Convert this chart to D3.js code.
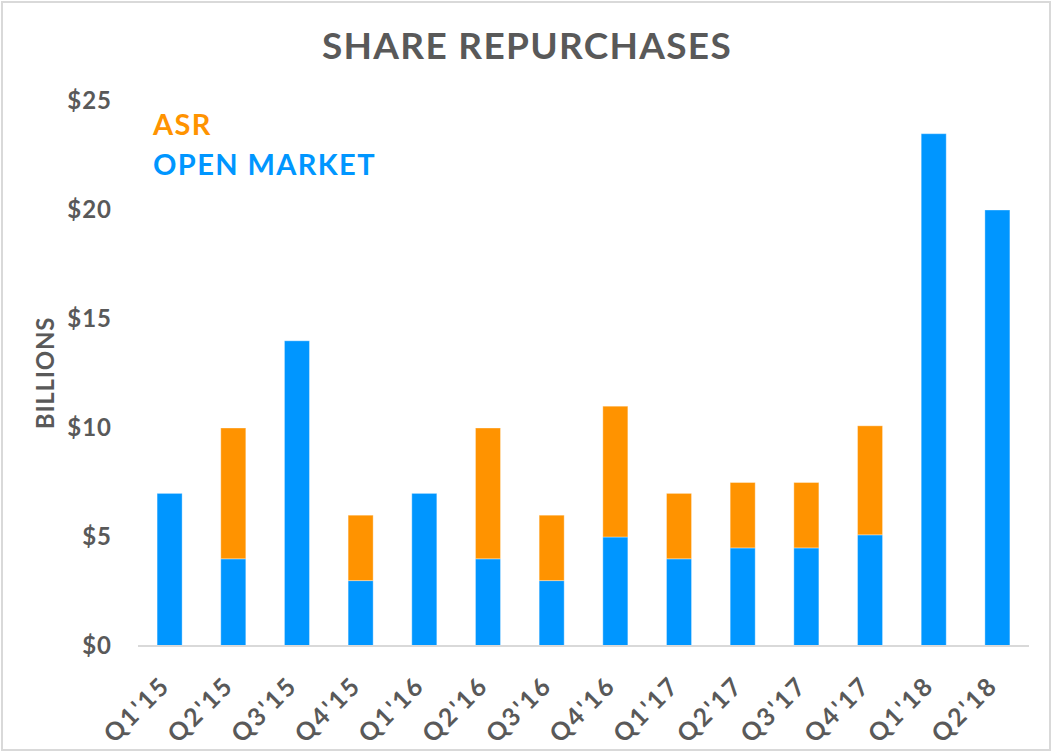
<!DOCTYPE html>
<html>
<head>
<meta charset="utf-8">
<script src="https://cdn.jsdelivr.net/npm/d3@7"></script>
<style>
  body { margin: 0; background: #fff; }
  svg text { font-family: Lato, "Noto Sans", sans-serif; font-weight: bold; }
</style>
</head>
<body>
<svg id="drawing_region"></svg>
<script>
// quarters on the x axis
const categories = ["Q1'15", "Q2'15", "Q3'15", "Q4'15", "Q1'16", "Q2'16", "Q3'16",
                    "Q4'16", "Q1'17", "Q2'17", "Q3'17", "Q4'17", "Q1'18", "Q2'18"];
// billions of dollars
const openMarket = [7, 4, 14, 3, 7, 4, 3, 5, 4, 4.5, 4.5, 5.1, 23.5, 20];
const asr        = [0, 6, 0, 3, 0, 6, 3, 6, 3, 3, 3, 5, 0, 0];
const yTicks = [0, 5, 10, 15, 20, 25];

const seriesKeys = ["open", "asr"];
const seriesColor = { open: "#0096ff", asr: "#ff9300" };
const textColor = "#595959";

const data = categories.map((c, i) => ({ cat: c, open: openMarket[i], asr: asr[i] }));

const width = 1052, height = 752;
const margin = { top: 101, right: 23, bottom: 106, left: 138 };

const svg = d3.select("#drawing_region")
    .attr("width", width)
    .attr("height", height);

// outer frame
svg.append("rect")
    .attr("x", 2).attr("y", 2)
    .attr("width", width - 4).attr("height", height - 4)
    .attr("fill", "#fff")
    .attr("stroke", "#d9d9d9")
    .attr("stroke-width", 2);

const x = d3.scaleBand()
    .domain(categories)
    .range([margin.left, width - margin.right])
    .paddingInner(0.607)
    .paddingOuter(0.3);

const y = d3.scaleLinear()
    .domain([0, 25])
    .range([height - margin.bottom, margin.top]);

const stacked = d3.stack().keys(seriesKeys)(data);

svg.append("g")
    .selectAll("g")
    .data(stacked)
    .join("g")
    .attr("fill", d => seriesColor[d.key])
    .selectAll("rect")
    .data(d => d.filter(p => p[1] - p[0] > 0))
    .join("rect")
    .attr("x", d => x(d.data.cat))
    .attr("y", d => y(d[1]))
    .attr("width", x.bandwidth())
    .attr("height", d => y(d[0]) - y(d[1]))
    .attr("stroke", "rgba(255,255,255,0.35)")
    .attr("stroke-width", 1);

// y axis
const yAxis = svg.append("g")
    .attr("transform", `translate(${margin.left},0)`)
    .call(d3.axisLeft(y).tickValues(yTicks).tickSize(0).tickPadding(26).tickFormat(d => "$" + d));
yAxis.select(".domain").remove();
yAxis.selectAll("text")
    .attr("fill", textColor)
    .style("font-size", "24px")
    .style("letter-spacing", "1px");

// x axis
const xAxis = svg.append("g")
    .attr("transform", `translate(0,${y(0)})`)
    .call(d3.axisBottom(x).tickSize(0).tickPadding(0));
xAxis.select(".domain")
    .attr("stroke", "#d9d9d9")
    .attr("stroke-width", 2)
    .attr("d", `M${margin.left},0H${width - margin.right}`);
xAxis.selectAll("text")
    .attr("fill", textColor)
    .style("font-size", "25px")
    .style("letter-spacing", "2.4px")
    .attr("text-anchor", "end")
    .attr("dy", null)
    .attr("y", 0)
    .attr("transform", "translate(2,41) rotate(-45)");

// axis title
svg.append("text")
    .attr("transform", "translate(54,373) rotate(-90)")
    .attr("text-anchor", "middle")
    .attr("fill", textColor)
    .style("font-size", "24px")
    .style("letter-spacing", "0.8px")
    .text("BILLIONS");

// chart title
svg.append("text")
    .attr("x", 527)
    .attr("y", 59)
    .attr("text-anchor", "middle")
    .attr("fill", textColor)
    .style("font-size", "37px")
    .style("letter-spacing", "1.3px")
    .text("SHARE REPURCHASES");

// legend
const legend = [
    { label: "ASR", key: "asr", y: 135 },
    { label: "OPEN MARKET", key: "open", y: 175 }
];
svg.append("g")
    .selectAll("text")
    .data(legend)
    .join("text")
    .attr("x", 153)
    .attr("y", d => d.y)
    .attr("fill", d => seriesColor[d.key])
    .style("font-size", "29px")
    .style("letter-spacing", "1.4px")
    .text(d => d.label);
</script>
</body>
</html>
